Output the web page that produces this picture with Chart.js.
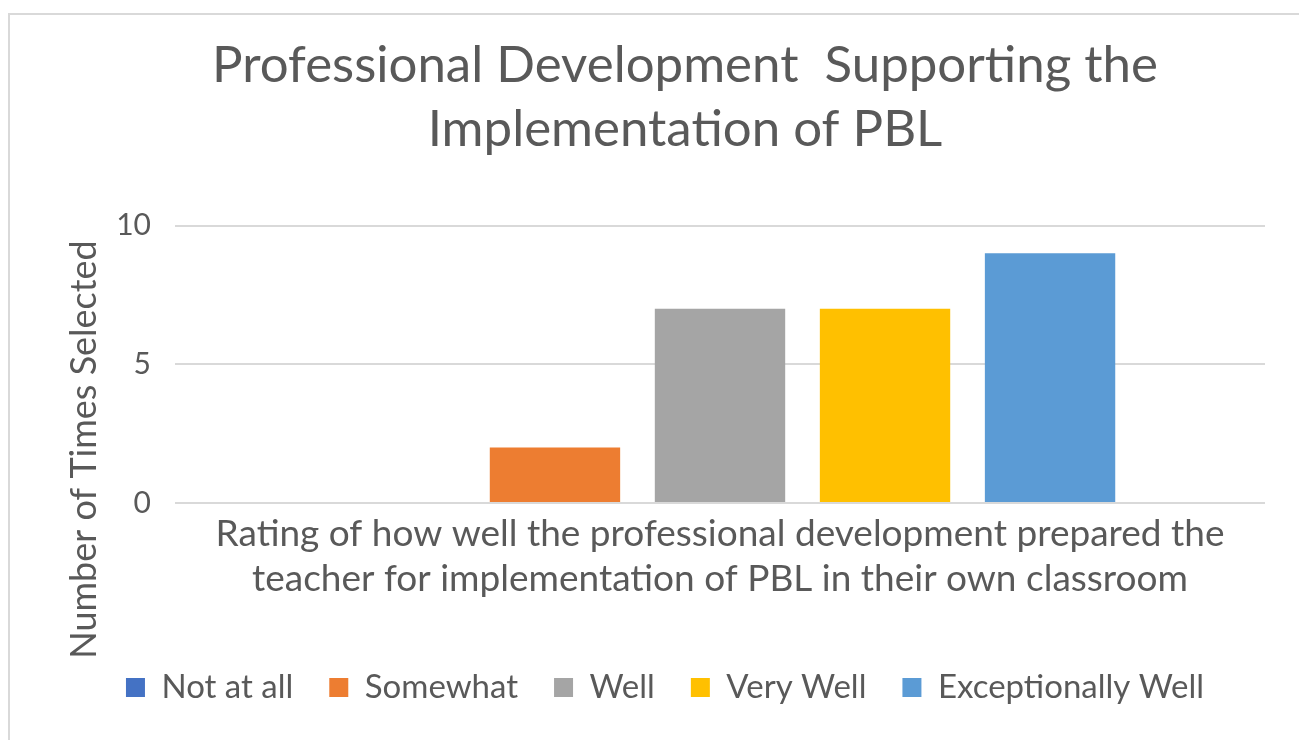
<!DOCTYPE html>
<html>
<head>
<meta charset="utf-8">
<script src="https://cdn.jsdelivr.net/npm/chart.js@4"></script>
<style>
html,body{margin:0;padding:0;background:#fff;}
#wrap{width:1299px;height:740px;position:relative;}
</style>
</head>
<body>
<div id="wrap"><canvas id="c" width="1299" height="740"></canvas></div>
<script>
const categories = [["Rating of how well the professional development prepared the", "teacher for implementation of PBL in their own classroom"]];
const seriesNames = ["Not at all", "Somewhat", "Well", "Very Well", "Exceptionally Well"];
const seriesValues = [[0], [2], [7], [7], [9]];
const seriesColors = ["#4472C4", "#ED7D31", "#A5A5A5", "#FFC000", "#5B9BD5"];
const yTicks = [0, 5, 10];
const titleLines = ["Professional Development  Supporting the", "Implementation of PBL"];
const yTitle = "Number of Times Selected";

const FONT = "Lato, 'Noto Sans', sans-serif";
const TXT = "#595959";

const framePlugin = {
  id: 'frame',
  afterLayout(chart) {
    if (chart.legend) {
      chart.legend.left -= 20;
      chart.legend.right -= 20;
    }
  },
  beforeDraw(chart) {
    const ctx = chart.ctx;
    ctx.save();
    ctx.fillStyle = '#fff';
    ctx.fillRect(0, 0, chart.width, chart.height);
    ctx.strokeStyle = '#d9d9d9';
    ctx.lineWidth = 2;
    ctx.beginPath();
    ctx.moveTo(9, chart.height);
    ctx.lineTo(9, 14);
    ctx.lineTo(chart.width, 14);
    ctx.stroke();
    ctx.restore();
  },
  afterDraw(chart) {
    const ctx = chart.ctx;
    const ca = chart.chartArea;
    ctx.save();
    ctx.fillStyle = TXT;
    ctx.font = "36px " + FONT;
    ctx.textAlign = 'center';
    ctx.textBaseline = 'middle';
    ctx.translate(84, ca.top + 224);
    ctx.rotate(-Math.PI / 2);
    ctx.fillText(yTitle, 0, 0);
    ctx.restore();
  }
};

new Chart(document.getElementById('c'), {
  type: 'bar',
  data: {
    labels: categories,
    datasets: seriesNames.map((n, i) => ({
      label: n,
      data: seriesValues[i],
      backgroundColor: seriesColors[i],
      borderWidth: 0,
      categoryPercentage: 0.757,
      barPercentage: 0.79
    }))
  },
  options: {
    responsive: false,
    animation: false,
    devicePixelRatio: 1,
    layout: { padding: { left: 105, right: 34, top: 14, bottom: 26 } },
    plugins: {
      title: {
        display: true,
        text: titleLines,
        color: TXT,
        font: { family: FONT, size: 51, weight: 'normal', lineHeight: 1.25 },
        padding: { top: 20, bottom: 64 }
      },
      legend: {
        position: 'bottom',
        labels: {
          color: TXT,
          font: { family: FONT, size: 33 },
          boxWidth: 19,
          boxHeight: 19,
          padding: 36
        }
      },
      tooltip: { enabled: false }
    },
    scales: {
      x: {
        grid: { display: false, drawTicks: false },
        border: { display: false },
        afterFit: (s) => { s.height = 132; },
        ticks: {
          color: TXT,
          font: { family: FONT, size: 37, lineHeight: 1.22 },
          maxRotation: 0,
          autoSkip: false,
          padding: 8
        }
      },
      y: {
        min: 0,
        max: 10,
        afterBuildTicks: (s) => { s.ticks = yTicks.map(v => ({ value: v })); },
        afterFit: (s) => { s.width = 70; },
        grid: { color: '#d9d9d9', lineWidth: 2, drawTicks: false },
        border: { display: false },
        ticks: {
          color: TXT,
          font: { family: FONT, size: 30 },
          padding: 24
        }
      }
    }
  },
  plugins: [framePlugin]
});
</script>
</body>
</html>
